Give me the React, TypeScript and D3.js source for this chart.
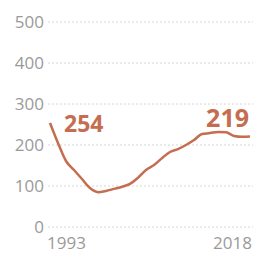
import React from "react";
import * as d3 from "d3";

const years: number[] = Array.from({ length: 26 }, (_, i) => 1993 + i);
const values: number[] = [
  254, 205, 161, 139, 117, 95, 85, 88, 93, 98, 105, 120, 139, 151, 168, 183,
  190, 200, 212, 227, 229, 232, 231, 222, 220, 221,
];
const yTicks: number[] = [0, 100, 200, 300, 400, 500];
const xLabels: number[] = [1993, 2018];
const startLabel = "254";
const endLabel = "219";

const W = 253;
const H = 254;
const accent = "#c46d50";
const font = "'Open Sans', 'Noto Sans', sans-serif";

export default function App() {
  const x = d3.scaleLinear().domain([1993, 2018]).range([50, 250]);
  const y = d3.scaleLinear().domain([0, 500]).range([227, 22]);
  const line = d3
    .line<number>()
    .x((_, i) => x(years[i]))
    .y((d) => y(d))
    .curve(d3.curveMonotoneX);

  return (
    <svg
      width={W}
      height={H}
      style={{ position: "absolute", left: 0, top: 0, background: "#fff" }}
    >
      {yTicks.map((t) => (
        <g key={t}>
          <line
            x1={48}
            x2={W}
            y1={y(t)}
            y2={y(t)}
            stroke="#d6d6d6"
            strokeWidth={1}
            strokeDasharray="2,2"
          />
          <text
            x={44}
            y={y(t)}
            dy="0.35em"
            textAnchor="end"
            fontFamily={font}
            fontSize={17}
            fill="#9a9a9a"
          >
            {t}
          </text>
        </g>
      ))}
      {xLabels.map((yr, i) => (
        <text
          key={yr}
          x={i === 0 ? 47 : 252}
          y={249}
          textAnchor={i === 0 ? "start" : "end"}
          fontFamily={font}
          fontSize={17}
          fill="#9a9a9a"
        >
          {yr}
        </text>
      ))}
      <path d={line(values) || ""} fill="none" stroke={accent} strokeWidth={2.5} />
      <text
        x={64}
        y={132}
        fontFamily={font}
        fontWeight="bold"
        fontSize={23}
        fill={accent}
      >
        {startLabel}
      </text>
      <text
        x={249}
        y={127}
        textAnchor="end"
        fontFamily={font}
        fontWeight="bold"
        fontSize={25}
        fill={accent}
      >
        {endLabel}
      </text>
    </svg>
  );
}
